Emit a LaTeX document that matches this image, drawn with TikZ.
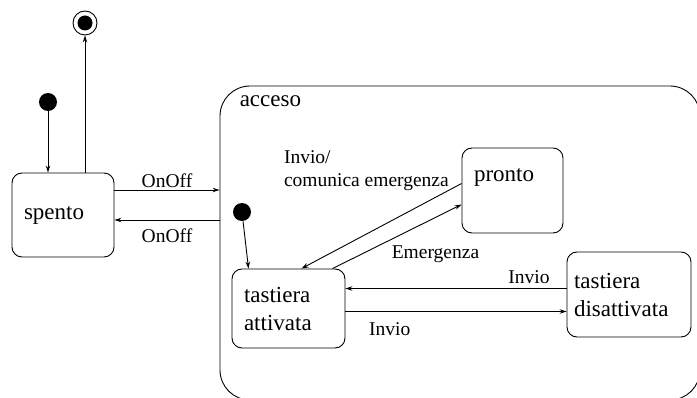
\documentclass[tikz,border=0pt]{standalone}
\usepackage{fontspec}
\setmainfont{Liberation Serif}
\usetikzlibrary{positioning,arrows.meta}

\begin{document}
\begin{tikzpicture}[x=1pt, y=-1pt, line width=0.9pt,
    >={Stealth[length=7pt,width=4.5pt]},
    state/.style={draw, rounded corners=10pt, align=left, inner xsep=12pt, inner ysep=0pt,
                  font=\fontsize{23}{28}\selectfont},
    lab/.style={font=\fontsize{19.5}{23}\selectfont},
    dot/.style={circle, fill, inner sep=0pt, minimum size=18pt}]
                \useasboundingbox (0,0) rectangle (697,398);
                \node[dot] (init) at (48,102) {};
                \node[circle, draw, inner sep=0pt, minimum size=24pt] (fine) at (85,23) {};
                \node[circle, fill, inner sep=0pt, minimum size=15pt] (finec) at (fine) {};
                \node[state, text width=78pt, minimum height=84pt] (spento) at (63,215) {spento};

                \node[draw, rounded corners=30pt, minimum width=480pt, minimum height=314pt] (acceso) at (460,243) {};
                \node[anchor=west, font=\fontsize{23}{28}\selectfont] (accesolab) at (236,101) {acceso};
                \node[dot] (initacc) at (242,212) {};
                \node[state, text width=89pt, minimum height=79pt] (attivata) at (288.5,308.5) {tastiera\\attivata};
                \node[state, text width=77pt, minimum height=85pt, text depth=30pt] (pronto) at (512.5,190.5) {pronto};
                \node[state, inner xsep=7pt, text width=110pt, minimum height=85pt] (disattivata) at (629,294.5) {tastiera\\disattivata};

                % spento
                \draw [->] (init.south) -- (init.south |- spento.north);
                \draw [->] (fine.south |- spento.north) -- (fine.south);
                \draw [->] ([yshift=25pt]spento.east) -- ([yshift=25pt]spento.east -| acceso.west) node[lab, midway, above=-1pt] {OnOff};
                \draw [->] ([yshift=-5pt]spento.east -| acceso.west) -- ([yshift=-5pt]spento.east) node[lab, midway, below=5pt] {OnOff};

                % acceso
                \draw [->] (initacc) -- ([xshift=-40pt]attivata.north);
                \draw [->] ([yshift=7pt]pronto.west) -- ([xshift=13pt]attivata.north)
                    node[lab, at start, anchor=east, align=left, xshift=-9pt, yshift=13pt] {Invio/\\comunica emergenza};
                \draw [->] ([xshift=44pt]attivata.north) -- ([yshift=-14pt]pronto.west)
                    node[lab, midway, anchor=north west, xshift=-9pt, yshift=-5pt] {Emergenza};
                \draw [->] ([yshift=6pt]disattivata.west) -- ([yshift=6pt]disattivata.west -| attivata.east)
                    node[lab, pos=0.17, above=1pt] {Invio};
                \draw [->] ([yshift=-3pt]attivata.east) -- ([yshift=-3pt]attivata.east -| disattivata.west)
                    node[lab, pos=0.2, below=7pt] {Invio};
            \end{tikzpicture}
\end{document}
